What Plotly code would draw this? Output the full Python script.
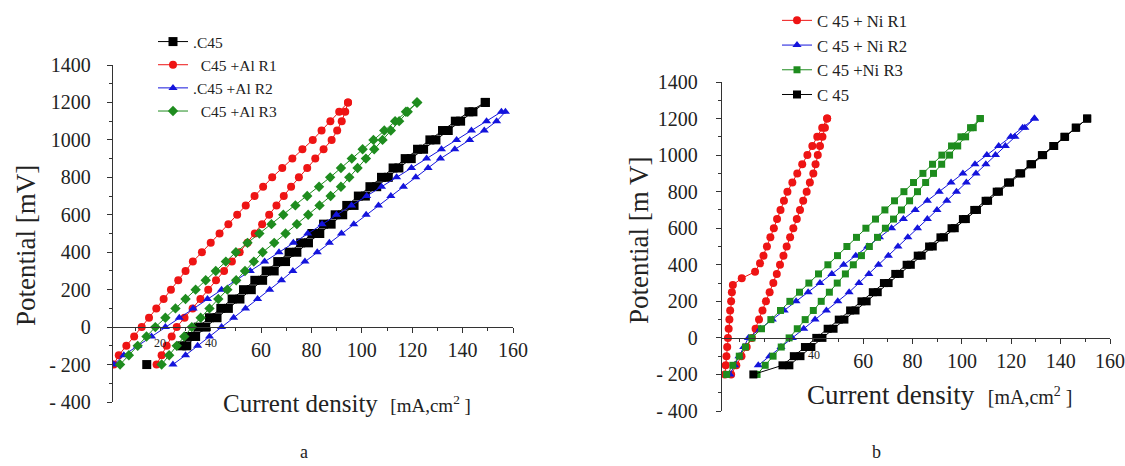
import plotly.graph_objects as go

# ---------------- data ----------------
potential_mv = [-200, -150, -100, -50, 0, 50, 100, 150, 200, 250, 300, 350, 400, 450, 500,
                550, 600, 650, 700, 750, 800, 850, 900, 950, 1000, 1050, 1100, 1150, 1200]

# panel a : current density (mA/cm2) on the rising scan and on the return scan (listed by ascending potential)
c45_a_up = [14.6, None, 30.5, 34.0, 38.0, 42.5, 47.0, 51.6, 56.1, 60.6, 65.2, 69.7, 74.2, 78.8, 83.3,
            87.8, 92.4, 96.9, 101.4, 105.9, 110.5, 114.7, 119.6, 124.5, 129.4, 134.3, 139.2, 144.1, 149.0]
c45_a_back = [None, None, 28.5, 31.5, 35.0, 39.5, 44.0, 48.5, 53.0, 57.5, 62.0, 66.6, 71.1, 75.7, 80.2,
              84.8, 89.4, 94.0, 98.6, 103.2, 107.8, 112.4, 117.2, 122.1, 127.0, 132.0, 137.1, 142.5, 149.0]
al_r1_up = [1.5, 3.5, 6.5, 9.6, 12.6, 15.5, 18.4, 21.3, 24.2, 27.1, 30.0, 32.9, 36.5, 40.0, 43.5,
            47.0, 50.5, 53.9, 57.4, 60.8, 64.4, 68.4, 72.4, 76.4, 80.5, 84.0, 87.5, 91.0, 94.5]
al_r1_back = [18.5, 20.5, 22.5, 24.5, 26.5, 29.6, 32.8, 35.9, 39.0, 42.1, 45.3, 48.4, 51.5, 54.6, 57.5,
              60.4, 63.2, 66.1, 69.0, 71.9, 75.0, 78.3, 81.5, 84.8, 88.0, 90.2, 92.0, 93.4, 94.5]
al_r2_up = [1.5, 5.5, 11.0, 16.5, 22.0, 27.5, 33.0, 38.7, 44.3, 50.0, 55.7, 61.4, 67.1, 72.8, 78.5,
            84.2, 89.9, 95.9, 101.9, 107.8, 113.8, 119.7, 125.7, 131.6, 137.6, 143.5, 149.5, 155.4, None]
al_r2_back = [25.0, 30.0, 34.8, 39.5, 44.3, 49.1, 53.8, 58.6, 63.4, 68.1, 72.6, 77.4, 82.3, 87.1, 91.9,
              96.8, 101.7, 106.6, 111.5, 116.5, 121.4, 126.3, 131.2, 136.9, 142.8, 148.6, 153.5, 157.0, None]
al_r3_up = [4.0, 7.5, 11.0, 14.5, 18.0, 22.0, 26.0, 30.0, 34.0, 38.0, 42.0, 46.0, 50.0, 54.6, 59.3,
            64.1, 68.8, 73.6, 78.3, 83.0, 87.4, 91.7, 96.0, 100.3, 104.6, 108.9, 113.2, 117.5, 121.8]
al_r3_back = [20.5, 23.5, 26.5, 29.5, 32.5, 36.0, 39.5, 43.0, 46.6, 50.1, 53.6, 57.1, 60.6, 65.2, 69.7,
              74.2, 78.7, 83.2, 87.6, 91.7, 95.0, 98.3, 101.6, 104.9, 108.2, 111.5, 114.8, 118.2, 122.0]

# panel b
ni_r1_up_mv = [-200, -150, -100, -50, 0, 50, 100, 150, 200, 250, 290, 326, 362, 408, 450,
               500, 550, 600, 650, 700, 750, 800, 850, 900, 950, 1000, 1050, 1100, 1150, 1200]
ni_r1_up = [4.0, 4.3, 4.6, 4.9, 5.2, 5.5, 5.8, 6.1, 6.5, 6.8, 7.2, 10.8, 16.2, 18.2, 19.6,
            21.0, 22.4, 23.8, 25.1, 26.5, 27.9, 29.3, 31.3, 33.3, 35.3, 37.4, 39.4, 41.4, 43.4, 45.4]
ni_r1_back = [6.5, 8.6, 10.7, 12.8, 14.9, 16.4, 17.8, 19.2, 20.6, 22.1, 23.6, 25.0, 26.3, 27.7, 29.0,
              30.4, 31.7, 33.1, 34.4, 35.7, 37.1, 38.4, 39.8, 40.7, 41.6, 42.5, 43.5, 44.5, 45.4]
ni_r2_up = [6.0, 7.9, 9.7, 11.6, 13.5, 18.3, 23.2, 28.0, 32.8, 37.7, 42.5, 47.3, 52.1, 57.0, 61.8,
            66.6, 71.5, 76.3, 81.1, 86.0, 90.8, 95.6, 100.4, 105.3, 110.1, 114.9, 119.8, 124.6, 129.4]
ni_r2_back = [None, 17.5, 22.1, 26.7, 31.3, 35.9, 40.5, 45.1, 49.7, 54.3, 58.3, 62.3, 66.2, 70.2, 74.1,
              78.1, 82.0, 86.0, 89.9, 93.9, 97.8, 101.8, 105.7, 109.7, 113.6, 117.6, 121.5, 125.5, 129.4]
ni_r3_up = [4.7, 7.2, 9.8, 12.3, 14.9, 18.8, 22.6, 26.5, 30.3, 34.2, 38.0, 41.9, 45.7, 49.6, 53.4,
            57.3, 61.1, 65.0, 68.8, 72.7, 76.5, 80.4, 84.2, 88.1, 91.9, 95.8, 99.6, 103.5, 107.3]
ni_r3_back = [17.0, 20.3, 23.5, 26.8, 30.0, 33.3, 36.5, 39.8, 43.0, 46.3, 49.5, 52.8, 56.0, 59.3, 62.5,
              65.8, 69.0, 72.3, 75.5, 78.8, 82.0, 85.3, 88.5, 91.8, 95.0, 98.3, 101.5, 104.6, 107.5]
c45_b_up = [15.5, 27.3, 31.9, 36.4, 41.0, 45.6, 50.1, 54.7, 59.3, 63.9, 68.4, 73.0, 77.6, 82.1, 86.7,
            91.3, 95.8, 100.4, 105.0, 109.6, 114.1, 118.7, 123.3, 127.8, 132.4, 137.0, 141.5, 146.1, 150.7]
c45_b_back = [None, 30.1, 34.6, 39.0, 43.5, 48.0, 52.4, 56.9, 61.4, 65.9, 70.3, 74.8, 79.3, 83.7, 88.2,
              92.7, 97.1, 101.6, 106.1, 110.6, 115.0, 119.5, 124.0, 128.4, 132.9, 137.4, 141.8, 146.3, 150.8]

y_tickvals = [-400, -200, 0, 200, 400, 600, 800, 1000, 1200, 1400]
y_ticktext = ["- 400", "- 200", "0", "200", "400", "600", "800", "1000", "1200", "1400"]
x_tickvals = [60, 80, 100, 120, 140, 160]
x_ticktext = ["60", "80", "100", "120", "140", "160"]
x_small_ticks_a = [0, 20, 40]
x_small_ticks_b = [40]

FONT = "Liberation Serif"
RED, BLUE, GREEN, BLACK = "#ee1414", "#1414dc", "#1e8c1e", "#000000"

W, H = 1125, 466
def px_x(p):
    return p / W
def px_y(p):
    return 1 - p / H

fig = go.Figure()

def loop(up_x, up_y, back_x, back_y, name, color, symbol, size, xa, ya, legend):
    fig.add_trace(go.Scatter(
        x=list(up_x) + list(back_x)[::-1],
        y=list(up_y) + list(back_y)[::-1],
        mode="lines+markers", name=name,
        line=dict(color=color, width=1),
        marker=dict(color=color, symbol=symbol, size=size),
        xaxis=xa, yaxis=ya, legend=legend,
    ))

loop(c45_a_up, potential_mv, c45_a_back, potential_mv, ".C45", BLACK, "square", 9, "x", "y", "legend")
loop(al_r1_up, potential_mv, al_r1_back, potential_mv, "\u00a0\u00a0C45 +Al R1", RED, "circle", 8, "x", "y", "legend")
loop(al_r2_up, potential_mv, al_r2_back, potential_mv, ".C45 +Al R2", BLUE, "triangle-up", 8, "x", "y", "legend")
loop(al_r3_up, potential_mv, al_r3_back, potential_mv, "\u00a0\u00a0C45 +Al R3", GREEN, "diamond", 8, "x", "y", "legend")

loop(ni_r1_up, ni_r1_up_mv, ni_r1_back, potential_mv, "C 45 + Ni R1", RED, "circle", 8, "x2", "y2", "legend2")
loop(ni_r2_up, potential_mv, ni_r2_back, potential_mv, "C 45 + Ni R2", BLUE, "triangle-up", 8, "x2", "y2", "legend2")
loop(ni_r3_up, potential_mv, ni_r3_back, potential_mv, "C 45 +Ni R3", GREEN, "square", 7, "x2", "y2", "legend2")
loop(c45_b_up, potential_mv, c45_b_back, potential_mv, "C 45", BLACK, "square", 8, "x2", "y2", "legend2")

# panel geometry (window pixels)
a_left, a_right, a_top, a_bot, a_zero = 113, 513, 65, 402, 327
b_left, b_right, b_top, b_bot, b_zero = 722, 1110, 82, 411, 338

axis_common = dict(showgrid=False, zeroline=False, showline=True, linecolor="#333", linewidth=1.3,
                   ticks="outside", tickcolor="#333", ticklen=5, tickwidth=1, automargin=False,
                   tickfont=dict(family=FONT, size=20, color="#222"))
minor_x = dict(dtick=10, ticklen=3, ticks="outside", tickcolor="#333")
minor_y = dict(dtick=100, ticklen=3, ticks="outside", tickcolor="#333")

fig.update_layout(
    width=W, height=H, margin=dict(l=0, r=0, t=0, b=0, autoexpand=False),
    paper_bgcolor="white", plot_bgcolor="rgba(0,0,0,0)",
    font=dict(family=FONT, color="#222"),
    xaxis=dict(domain=[px_x(a_left), px_x(a_right)], range=[1.2, 160], anchor="free",
               position=px_y(a_zero), tickvals=x_tickvals, ticktext=x_ticktext,
               minor=minor_x, ticklabelstandoff=0, **axis_common),
    yaxis=dict(domain=[px_y(a_bot), px_y(a_top)], range=[-400, 1400], anchor="x",
               tickvals=y_tickvals, ticktext=y_ticktext,
               minor=minor_y, ticklabelstandoff=12, **axis_common),
    xaxis2=dict(domain=[px_x(b_left), px_x(b_right)], range=[2.8, 160], anchor="free",
                position=px_y(b_zero), tickvals=x_tickvals, ticktext=x_ticktext,
                minor=minor_x, ticklabelstandoff=0, **axis_common),
    yaxis2=dict(domain=[px_y(b_bot), px_y(b_top)], range=[-400, 1400], anchor="x2",
                tickvals=y_tickvals, ticktext=y_ticktext,
                minor=minor_y, ticklabelstandoff=14, **axis_common),
    legend=dict(x=px_x(153), y=px_y(25), xanchor="left", yanchor="top",
                bgcolor="rgba(0,0,0,0)", font=dict(family=FONT, size=15.5, color="#222"),
                tracegroupgap=0, itemwidth=30),
    legend2=dict(x=px_x(777), y=px_y(3), xanchor="left", yanchor="top",
                 bgcolor="rgba(0,0,0,0)", font=dict(family=FONT, size=16.7, color="#222"),
                 tracegroupgap=0, itemwidth=30),
)

title_font = dict(family=FONT, size=27, color="#222")
annos = [
    dict(text="Potential [mV]", x=px_x(26), y=px_y(246), textangle=-90, font=title_font),
    dict(text="Potential [m V]", x=px_x(639), y=px_y(240), textangle=-90, font=title_font),
    dict(text="Current density  <span style='font-size:19px'>[mA,cm<sup>2</sup> ]</span>",
         x=px_x(347), y=px_y(403), font=dict(family=FONT, size=25, color="#222")),
    dict(text="Current density  <span style='font-size:20px'>[mA,cm<sup>2</sup> ]</span>",
         x=px_x(940), y=px_y(395), font=dict(family=FONT, size=27, color="#222")),
    dict(text="a", x=px_x(304), y=px_y(452), font=dict(family=FONT, size=18, color="#222")),
    dict(text="b", x=px_x(876), y=px_y(452), font=dict(family=FONT, size=18, color="#222")),
]
for a in annos:
    fig.add_annotation(xref="paper", yref="paper", showarrow=False, xanchor="center", yanchor="middle", **a)

# small tick labels near the origin, placed on the data axes
for v in x_small_ticks_a:
    fig.add_annotation(x=v, y=0, xref="x", yref="y", text=str(v), showarrow=False, yshift=-16,
                       font=dict(family=FONT, size=12, color="#222"))
for v in x_small_ticks_b:
    fig.add_annotation(x=v, y=0, xref="x2", yref="y2", text=str(v), showarrow=False, yshift=-17,
                       font=dict(family=FONT, size=12, color="#222"))

fig.write_html("out.html", config={"displayModeBar": False},
               post_script="document.body.style.margin='0px';")
